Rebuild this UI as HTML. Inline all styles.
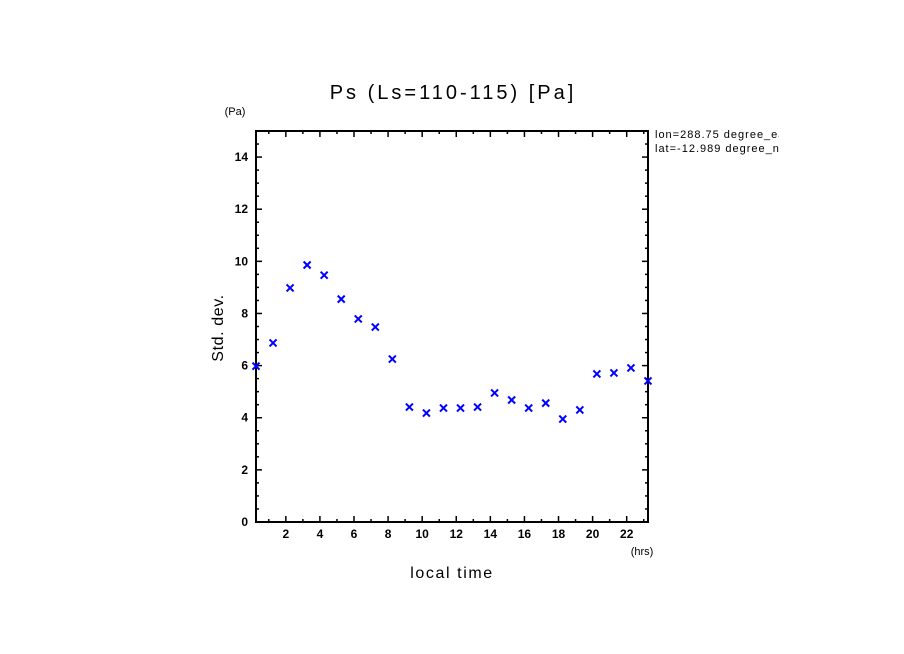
<!DOCTYPE html>
<html><head><meta charset="utf-8"><style>
body{margin:0;background:#fff}
svg{display:block}
text{font-family:"Liberation Sans",sans-serif;fill:#000}
</style></head><body>
<svg id="c" width="904" height="654">
<defs><clipPath id="clipinfo"><rect x="650" y="120" width="129" height="50"/></clipPath></defs>
<text x="453" y="99" font-size="20" letter-spacing="3" text-anchor="middle">Ps (Ls=110-115) [Pa]</text>
<text x="235" y="115" font-size="11" text-anchor="middle">(Pa)</text>
<text x="642" y="555" font-size="11" text-anchor="middle">(hrs)</text>
<text x="452" y="578" font-size="16" letter-spacing="1.6" text-anchor="middle">local time</text>
<text transform="translate(223,328) rotate(-90)" font-size="16" letter-spacing="0.6" text-anchor="middle">Std. dev.</text>
<g clip-path="url(#clipinfo)">
<text x="655" y="138" font-size="11" letter-spacing="1">lon=288.75 degree_east</text>
<text x="655" y="152" font-size="11" letter-spacing="1">lat=-12.989 degree_north</text>
</g>
<g id="axes"></g>
<g id="marks"></g>
</svg>
<script>
const hours=[0.25,1.25,2.25,3.25,4.25,5.25,6.25,7.25,8.25,9.25,10.25,11.25,12.25,13.25,14.25,15.25,16.25,17.25,18.25,19.25,20.25,21.25,22.25,23.25];
const stdDev=[5.98,6.87,8.98,9.86,9.47,8.55,7.79,7.48,6.25,4.41,4.18,4.37,4.37,4.41,4.95,4.68,4.37,4.56,3.95,4.30,5.68,5.72,5.91,5.41];
const xTicks=[2,4,6,8,10,12,14,16,18,20,22];
const yTicks=[0,2,4,6,8,10,12,14];
const L=256,R=648,T=131,B=522,X0=0.25,X1=23.25,Y0=0,Y1=15;
const sx=v=>L+(v-X0)/(X1-X0)*(R-L);
const sy=v=>B-(v-Y0)/(Y1-Y0)*(B-T);
const NS="http://www.w3.org/2000/svg";
const ax=document.getElementById('axes'),mk=document.getElementById('marks');
function ln(p,x1,y1,x2,y2,w,c){const l=document.createElementNS(NS,'line');l.setAttribute('x1',x1);l.setAttribute('y1',y1);l.setAttribute('x2',x2);l.setAttribute('y2',y2);l.setAttribute('stroke',c||'#000');l.setAttribute('stroke-width',w);p.appendChild(l);return l;}
const fr=document.createElementNS(NS,'rect');
fr.setAttribute('x',L);fr.setAttribute('y',T);fr.setAttribute('width',R-L);fr.setAttribute('height',B-T);
fr.setAttribute('fill','none');fr.setAttribute('stroke','#000');fr.setAttribute('stroke-width',2);


ax.appendChild(fr);
for(let h=1;h<=23;h++){const x=sx(h);const len=h%2===0?6:3;ln(ax,x,B,x,B-len,1.5);ln(ax,x,T,x,T+len,1.5);}
for(let v=0.5;v<15;v+=0.5){const y=sy(v);const len=Math.abs(v%2)<1e-9?6:3;ln(ax,L,y,L+len,y,1.5);ln(ax,R,y,R-len,y,1.5);}
xTicks.forEach(t=>{const e=document.createElementNS(NS,'text');e.setAttribute('x',sx(t));e.setAttribute('y',B+16);e.setAttribute('font-size','12');e.setAttribute('font-weight','bold');e.setAttribute('text-anchor','middle');e.textContent=t;


ax.appendChild(e);});
yTicks.forEach(t=>{const e=document.createElementNS(NS,'text');e.setAttribute('x',L-8);e.setAttribute('y',sy(t)+4);e.setAttribute('font-size','12');e.setAttribute('font-weight','bold');e.setAttribute('text-anchor','end');e.textContent=t;


ax.appendChild(e);});
hours.forEach((h,i)=>{const x=sx(h),y=sy(stdDev[i]);const g=document.createElementNS(NS,'g');


ln(g,x-3.5,y-3.5,x+3.5,y+3.5,2,'#0000ff');ln(g,x-3.5,y+3.5,x+3.5,y-3.5,2,'#0000ff');mk.appendChild(g);});
</script>
</body></html>
